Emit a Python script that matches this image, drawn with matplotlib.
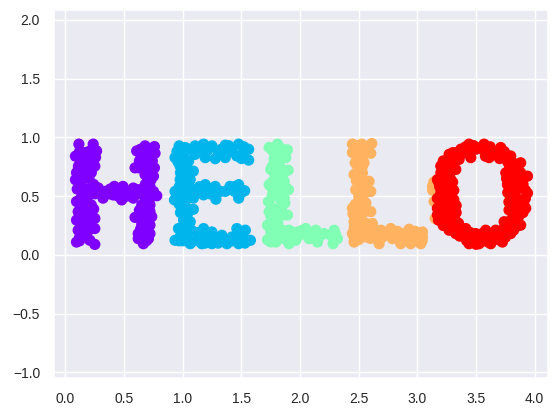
import numpy as np
import matplotlib
matplotlib.use("Agg")
import matplotlib.pyplot as plt
import seaborn as sns

sns.set_theme()
plt.rcParams['font.family'] = ['Liberation Sans', 'DejaVu Sans']

h_x = [.114,.236,.085,.265,.256,.165,.19,.11,.25,.22,.094,.085,.165,.12,.24,.15,.336,.28,.094,.19,.32,.22,.108,.208,.25,.094,.165,.25,.108,.094,.165,.208,.25,.12,
       .416,.49,.578,.407,.479,.55,.62,
       .607,.678,.758,.763,.678,.593,.664,.758,.75,.678,.72,.778,.655,.72,.578,.72,.65,.593,.664,.735,.72,.62,.72,.664,.62,.707,
       .12,.2,.14,.23,.16,.12,.2,.13,.17,.22,.1,.25,.13,.17,.13,.16,.24,.13,.19,.13,.2,.13,.19,.12,
       .37,.44,.52,.6,.52,.45,.38,
       .64,.71,.64,.72,.63,.68,.74,.63,.71,.7,.73,.68,.67,.7,.75,.68,.69,.63,.72,.62,.68,.65,.69,.64,.66,.69]
h_y = [.943,.943,.84,.885,.83,.87,.81,.755,.755,.70,.70,.64,.68,.57,.6,.525,.54,.57,.454,.497,.483,.425,.368,.353,.31,.296,.267,.224,.21,.109,.167,.124,.089,.15,
       .583,.583,.569,.51,.468,.526,.555,
       .885,.928,.922,.865,.87,.741,.756,.741,.67,.684,.583,.503,.54,.483,.483,.425,.425,.319,.353,.325,.253,.181,.181,.095,.138,.138,
       .88,.88,.80,.79,.74,.66,.65,.61,.56,.53,.56,.52,.48,.44,.42,.38,.39,.33,.31,.25,.26,.17,.2,.12,
       .52,.55,.54,.52,.5,.5,.56,
       .9,.9,.86,.85,.8,.8,.8,.74,.72,.65,.64,.6,.5,.53,.54,.46,.4,.38,.37,.33,.3,.26,.22,.22,.17,.12]
e_x = [.969,.934,1.02,1.105,1.177,1.248,1.362,1.476,1.561,1.561,1.46,1.362,1.276,1.191,1.105,1.006,1.42,
       .977,1.09,1.034,.977,1.063,
       .934,.929,1.006,1.09,1.09,1.191,1.177,1.276,1.282,1.402,1.476,1.527,1.476,1.362,
       1.09,.991,1.006,1.063,.963,1.074,.934,1.02,1.063,
       1.177,1.248,1.162,1.248,1.333,1.376,1.461,1.533,1.576,1.476,1.419,1.518,1.134,1.205,
       .95,.98,1.06,1.14,1.21,1.3,1.33,1.41,1.51,1.52,1.39,1.5,.96,1.0,1.05,.98,1.03,1.0,1.03,.97,.98,1.0,1.04,1.13,1.23,1.23,1.14,1.32,1.44,1.44,1.5,
       .97,1.02,.98,1.04,1.0,1.03,.98,1.0,1.1,1.2,1.13,1.28,1.3,1.43,1.5,1.46,1.53,1.39,1.19,.97]
e_y = [.928,.828,.914,.928,.943,.928,.934,.943,.899,.807,.842,.828,.819,.828,.856,.842,.9,
       .756,.713,.698,.641,.641,
       .54,.468,.569,.555,.483,.598,.511,.583,.474,.583,.598,.546,.483,.54,
       .388,.382,.296,.282,.224,.21,.124,.152,.095,
       .224,.195,.095,.095,.167,.095,.224,.21,.124,.095,.152,.138,.152,.124,
       .88,.9,.9,.9,.89,.88,.9,.88,.86,.92,.93,.82,.79,.8,.8,.7,.75,.66,.6,.58,.52,.47,.51,.54,.56,.52,.58,.54,.54,.58,.53,
       .43,.42,.36,.35,.24,.17,.16,.12,.12,.16,.19,.14,.1,.12,.17,.17,.1,.13,.1,.12]
l1_x = [1.736,1.807,1.892,1.821,1.778,1.878,1.75,1.821,1.898,1.736,1.793,1.864,1.901,1.793,1.764,1.864,1.73,1.849,1.736,1.807,1.892,1.722,1.779,1.793,1.722,1.793,1.849,1.906,1.906,1.977,1.963,2.048,2.077,2.134,2.148,2.205,2.29,2.318,2.281,1.849,
        1.77,1.85,1.79,1.85,1.83,1.8,1.76,1.85,1.78,1.85,1.77,1.83,1.76,1.88,1.84,1.8,1.83,1.87,1.77,1.84,1.75,1.86,1.76,1.81,1.75,1.77,1.82,1.75,1.86,1.83,1.88,1.94,1.92,2.0,2.02,2.11,2.12,2.17,2.27,2.3]
l1_y = [.914,.943,.894,.871,.813,.828,.727,.756,.721,.598,.67,.626,.555,.569,.511,.483,.454,.425,.368,.325,.339,.253,.282,.21,.129,.109,.21,.095,.21,.195,.124,.224,.138,.21,.109,.181,.21,.138,.095,.152,
        .88,.9,.85,.86,.8,.77,.75,.72,.7,.66,.63,.6,.57,.57,.53,.5,.48,.44,.4,.39,.33,.34,.29,.27,.2,.16,.14,.11,.17,.2,.13,.19,.12,.17,.21,.17,.14,.16,.16,.18]
l2_x = [3.128,3.142,3.151,3.13,3.14,2.446,2.446,2.526,2.611,2.602,2.531,2.469,2.545,2.46,2.531,2.588,2.602,2.474,2.531,2.531,2.503,2.446,2.56,2.602,2.489,2.46,2.446,2.46,2.531,2.616,2.56,2.602,2.673,2.688,2.773,2.787,2.858,2.872,2.929,2.943,3.028,3.043,3.043,
        2.48,2.48,2.57,2.57,2.51,2.5,2.53,2.49,2.52,2.48,2.56,2.5,2.56,2.5,2.47,2.52,2.45,2.54,2.51,2.46,2.5,2.56,2.46,2.52,2.5,2.58,2.63,2.66,2.7,2.73,2.76,2.82,2.85,2.83,2.9,2.96,2.98,2.99,3.04,2.6]
l2_y = [.583,.454,.31,.55,.62,.943,.871,.943,.948,.865,.86,.784,.784,.684,.698,.626,.54,.555,.598,.526,.454,.397,.44,.368,.353,.282,.181,.109,.239,.267,.152,.21,.095,.21,.224,.138,.095,.181,.218,.095,.095,.195,.152,
        .93,.89,.92,.87,.82,.78,.75,.72,.66,.63,.6,.58,.53,.5,.43,.42,.35,.36,.31,.23,.27,.27,.15,.19,.13,.25,.18,.17,.15,.19,.17,.17,.13,.2,.13,.16,.2,.12,.12,.14]
o_x = [3.27,3.199,3.17,3.199,3.17,3.179,3.27,3.355,3.398,3.44,3.526,3.625,3.724,3.795,3.88,3.923,3.938,3.938,3.88,3.795,3.71,3.568,3.44,3.37,
       3.327,3.355,3.455,3.256,3.284,3.298,3.412,3.497,3.582,3.667,3.739,3.781,3.795,3.767,3.753,3.611,3.696,3.781,3.838,3.838,3.838,3.724,3.611,3.327,3.227,3.241,3.227,3.327,
       3.22,3.3,3.26,3.3,3.2,3.25,3.27,3.21,3.24,3.28,3.19,3.23,3.26,3.22,3.24,3.27,3.2,3.26,3.21,3.22,3.27,3.25,3.3,3.22,3.33,3.36,3.45,3.42,3.47,3.5,3.56,3.6,3.66,3.69,3.75,3.78,3.74,3.82,3.85,3.8,3.86,3.9,3.85,3.81,3.89,3.84,3.82,3.87,3.9,3.8,3.83,3.8,3.85,3.82,3.77,3.74,3.75,3.66,3.6,3.62,3.5,3.46,3.4,3.41,3.36,3.33,3.48,3.3,3.55,3.58,
       3.3,3.31,3.31,3.33,3.33,3.32,3.35,3.18,3.17,3.17,3.77,3.78,3.76,3.9,3.88,3.92,3.92,3.91,3.86,3.4,3.5,3.63,3.7,3.45,3.55,3.55,3.43,3.64,3.7,3.3]
o_y = [.856,.756,.641,.526,.397,.296,.21,.239,.152,.095,.095,.095,.109,.181,.253,.397,.526,.67,.784,.842,.914,.943,.943,.9,
       .727,.813,.828,.583,.497,.382,.224,.181,.21,.21,.282,.382,.483,.598,.698,.828,.842,.727,.612,.497,.353,.181,.152,.181,.353,.454,.698,.87,
       .8,.87,.8,.76,.7,.75,.69,.64,.6,.65,.58,.55,.51,.5,.42,.43,.45,.38,.35,.3,.32,.25,.27,.25,.21,.16,.15,.12,.13,.09,.14,.11,.15,.13,.15,.22,.23,.21,.28,.3,.32,.36,.41,.42,.45,.46,.54,.57,.6,.64,.66,.72,.73,.78,.79,.88,.83,.87,.88,.92,.9,.89,.87,.92,.85,.82,.93,.78,.9,.84,
       .62,.55,.47,.42,.36,.3,.27,.62,.48,.34,.53,.45,.65,.65,.7,.55,.48,.42,.25,.19,.14,.16,.19,.19,.18,.92,.9,.85,.82,.83]

tick_x = [0, .5, 1, 1.5, 2, 2.5, 3, 3.5, 4]
tick_y = [-1, -.5, 0, .5, 1, 1.5, 2]

letters = [(h_x, h_y), (e_x, e_y), (l1_x, l1_y), (l2_x, l2_y), (o_x, o_y)]
xs = np.concatenate([l[0] for l in letters])
ys = np.concatenate([l[1] for l in letters])
labels = np.concatenate([[i] * len(l[0]) for i, l in enumerate(letters)])

fig = plt.figure(figsize=(5.59, 4.16), dpi=100)
ax = fig.add_axes([54 / 559, 1 - 377.7 / 416, 494 / 559, 367.7 / 416])
ax.scatter(xs, ys, c=labels, s=50, cmap="rainbow", vmin=0, vmax=4)
ax.set_xlim(-0.098, 4.113)
ax.set_ylim(-1.046, 2.085)
ax.set_xticks(tick_x)
ax.set_yticks(tick_y)
ax.tick_params(labelsize=10, pad=10, length=0)
fig.savefig("out.png", dpi=100)
